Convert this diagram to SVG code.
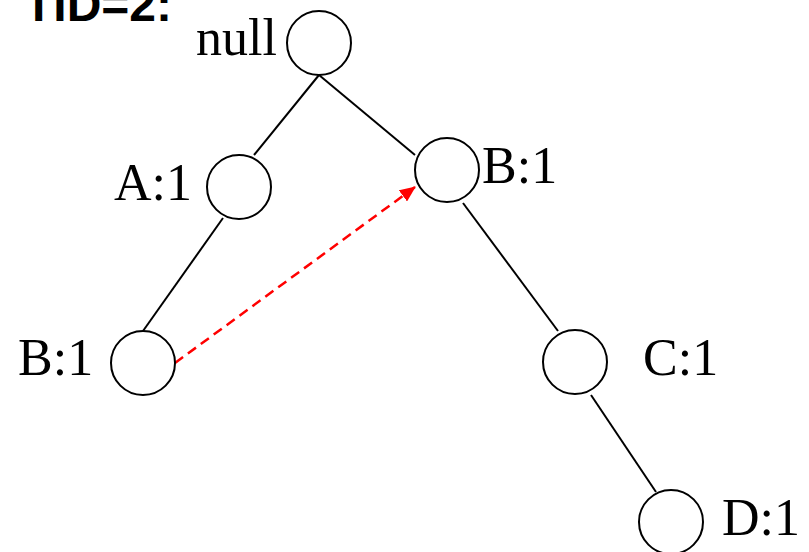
<svg xmlns="http://www.w3.org/2000/svg" width="809" height="552" viewBox="0 0 809 552">
<style>
.n{fill:#fff;stroke:#000;stroke-width:2}
.e{stroke:#000;stroke-width:2;fill:none}
.t{font-family:"Liberation Serif","Times New Roman",serif;font-size:52px;fill:#000}
.h{font-family:"Liberation Sans",Arial,sans-serif;font-size:48px;font-weight:bold;fill:#000}
</style>
<defs>
<marker id="ah" markerUnits="userSpaceOnUse" markerWidth="16" markerHeight="14" refX="15" refY="7" orient="auto">
<path d="M0,0 L16,7 L0,14 Z" fill="#f00"/>
</marker>
</defs>
<rect width="809" height="552" fill="#fff"/>
<text class="h" x="24" y="21">TID=2:</text>
<g id="edges">
<line class="e" x1="319" y1="75" x2="254" y2="155"/>
<line class="e" x1="319" y1="75" x2="415" y2="155"/>
<line class="e" x1="223" y1="218" x2="143" y2="331"/>
<line class="e" x1="463" y1="203" x2="558" y2="331"/>
<line class="e" x1="591" y1="395" x2="656" y2="492"/>
<line x1="175" y1="363" x2="415" y2="187" stroke="#f00" stroke-width="2.5" stroke-dasharray="10,6" marker-end="url(#ah)"/>
</g>
<g id="null"><circle class="n" cx="319" cy="43" r="32"/><text class="t" x="196" y="55">null</text></g>
<g id="A1"><circle class="n" cx="239" cy="187" r="32"/><text class="t" x="114" y="200">A:1</text></g>
<g id="B1r"><circle class="n" cx="447" cy="170" r="32"/><text class="t" x="482" y="183">B:1</text></g>
<g id="B1l"><circle class="n" cx="143" cy="363" r="32"/><text class="t" x="18" y="375">B:1</text></g>
<g id="C1"><circle class="n" cx="575" cy="362" r="32"/><text class="t" x="643" y="375">C:1</text></g>
<g id="D1"><circle class="n" cx="671" cy="522" r="32"/><text class="t" x="722" y="535">D:1</text></g>
</svg>
